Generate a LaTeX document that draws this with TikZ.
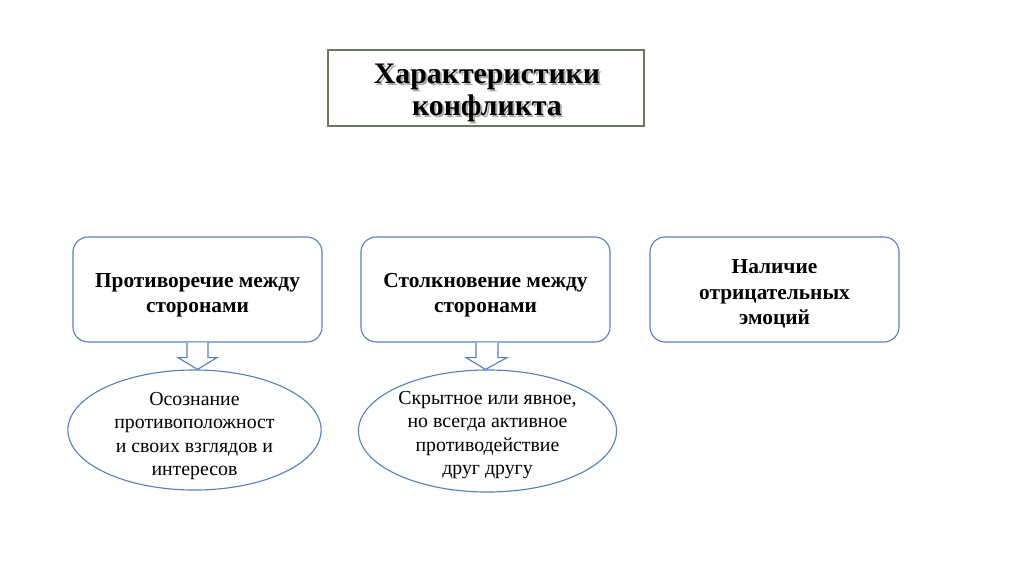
\documentclass[tikz,border=0pt]{standalone}
\usepackage{fontspec}
\setmainfont{Liberation Serif}
\usetikzlibrary{calc,shapes.geometric}
\definecolor{boxblue}{RGB}{84,130,190}
\definecolor{titleframe}{RGB}{108,122,92}
\definecolor{shadowgray}{RGB}{170,170,170}
\begin{document}
\begin{tikzpicture}[x=0.025cm,y=-0.025cm,
  titlebox/.style={draw=titleframe,line width=0.9pt,minimum width=7.9cm,minimum height=1.9cm,inner sep=0pt},
  titletext/.style={align=center,font=\fontsize{21.2}{23.2}\selectfont\bfseries},
  topbox/.style={draw=boxblue,line width=0.8pt,rounded corners=0.38cm,minimum width=6.225cm,minimum height=2.625cm,inner sep=0pt},
  boxtext/.style={align=center,font=\fontsize{15.2}{18}\selectfont\bfseries},
  oval/.style={draw=boxblue,line width=0.8pt,ellipse,inner sep=0pt},
  ovaltext/.style={align=center,font=\fontsize{14.1}{16.6}\selectfont},
  blockarrow/.style={draw=boxblue,line width=0.8pt,fill=white,line join=miter}]
\useasboundingbox (0,0) rectangle (1024,574);
\fill[white] (0,0) rectangle (1024,574);

% title
\node[titlebox] (title) at (486,88) {};
\node[titletext,text=shadowgray] (titleshadow) at (489,95) {Характеристики\\конфликта};
\node[titletext] (titletxt) at (487,93) {Характеристики\\конфликта};

% top boxes
\node[topbox] (b1) at (197.5,289.5) {};
\node[boxtext] (b1t) at (197.5,295) {Противоречие между\\сторонами};
\node[topbox] (b2) at (485.5,289.5) {};
\node[boxtext] (b2t) at (485.5,295) {Столкновение между\\сторонами};
\node[topbox] (b3) at (774.5,289.5) {};
\node[boxtext] (b3t) at (774.5,294) {Наличие\\отрицательных\\эмоций};

% ellipses
\node[oval,minimum width=6.33cm,minimum height=3.0cm] (e1) at (194.5,430) {};
\node[ovaltext] (e1t) at (194.5,436) {Осознание\\противоположност\\и своих взглядов и\\интересов};
\node[oval,minimum width=6.45cm,minimum height=3.05cm] (e2) at (487.5,431) {};
\node[ovaltext] (e2t) at (487.5,435) {Скрытное или явное,\\но всегда активное\\противодействие\\друг другу};

% block arrows
\draw[blockarrow] ($(b1.south)+(-10.5,0)$) -- ($(b1.south)+(-10.5,15)$) -- ($(b1.south)+(-19.5,15)$)
  -- (b1.south |- e1.north) -- ($(b1.south)+(19.5,15)$) -- ($(b1.south)+(10.5,15)$) -- ($(b1.south)+(10.5,0)$);
\draw[blockarrow] ($(b2.south)+(-9.5,0)$) -- ($(b2.south)+(-9.5,15)$) -- ($(b2.south)+(-19.5,15)$)
  -- (b2.south |- e2.north) -- ($(b2.south)+(21.5,15)$) -- ($(b2.south)+(12.5,15)$) -- ($(b2.south)+(12.5,0)$);
\end{tikzpicture}
\end{document}
